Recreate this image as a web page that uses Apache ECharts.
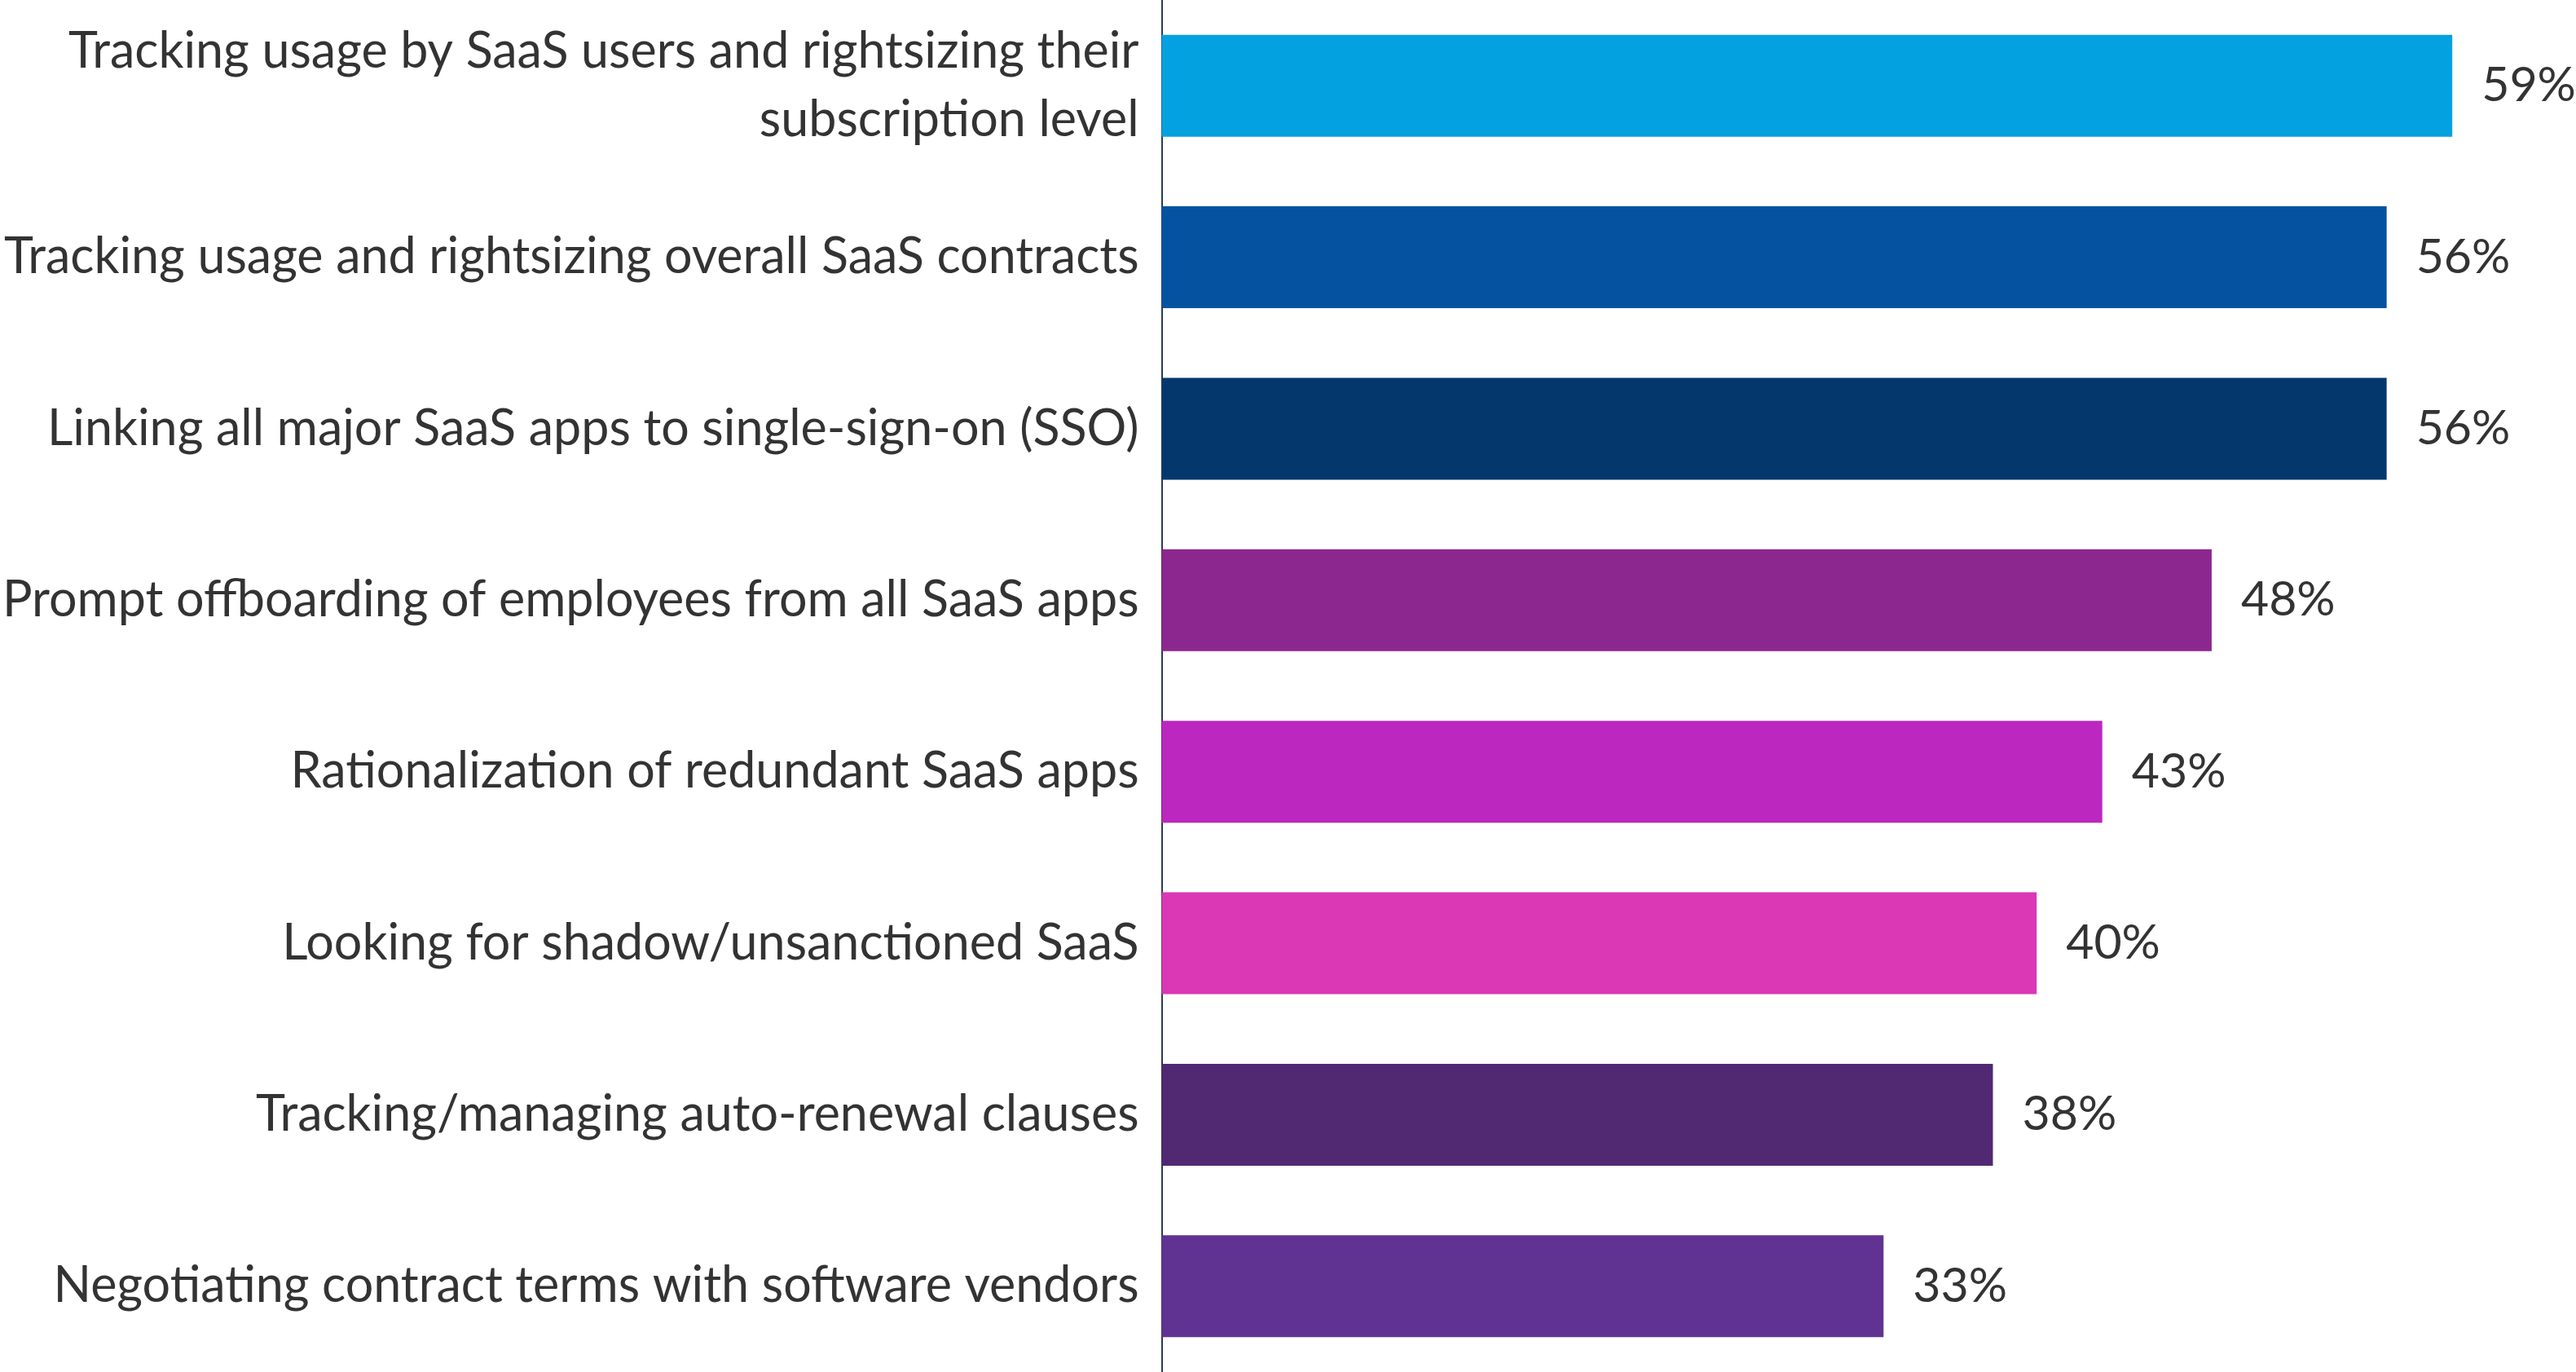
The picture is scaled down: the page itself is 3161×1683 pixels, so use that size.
<!DOCTYPE html>
<html>
<head>
<meta charset="utf-8">
<script src="https://cdn.jsdelivr.net/npm/echarts@6/dist/echarts.min.js"></script>
<style>
  html, body { margin: 0; padding: 0; background: #fff; }
  #chart { width: 3161px; height: 1683px; }
</style>
</head>
<body>
<div id="chart"></div>
<script>
var categories = [
    'Tracking usage by SaaS users and rightsizing their\nsubscription level',
    'Tracking usage and rightsizing overall SaaS contracts',
    'Linking all major SaaS apps to single-sign-on (SSO)',
    'Prompt offboarding of employees from all SaaS apps',
    'Rationalization of redundant SaaS apps',
    'Looking for shadow/unsanctioned SaaS',
    'Tracking/managing auto-renewal clauses',
    'Negotiating contract terms with software vendors'
]
var values = [59, 56, 56, 48, 43, 40, 38, 33]
var barColors = ['#03a1e0', '#0553a0', '#04386d', '#8c278f', '#bb27bf', '#da38b5', '#512872', '#603393']

var font = 'Lato'
var chart = echarts.init(document.getElementById('chart'))

chart.setOption({
    animation: false,
    grid: {
        left: 1423,
        right: 125,
        top: 0,
        bottom: 0
    },
    xAxis: {
        type: 'value',
        min: 0,
        max: 60,
        show: false
    },
    yAxis: {
        type: 'category',
        inverse: true,
        data: categories,
        axisLine: { show: true, lineStyle: { color: '#2e3b4e', width: 2 } },
        axisTick: { show: false },
        axisLabel: {
            margin: 28,
            color: '#333333',
            fontFamily: font,
            fontSize: 61,
            lineHeight: 84,
            align: 'right'
        }
    },
    series: [{
        type: 'bar',
        barWidth: 125,
        data: values.map(function(v, i) {
            return { value: v, itemStyle: { color: barColors[i] } }
        }),
        label: {
            show: true,
            position: 'right',
            distance: 36,
            color: '#333333',
            fontFamily: font,
            fontSize: 59,
            formatter: '{c}%'
        }
    }]
})
</script>
</body>
</html>
